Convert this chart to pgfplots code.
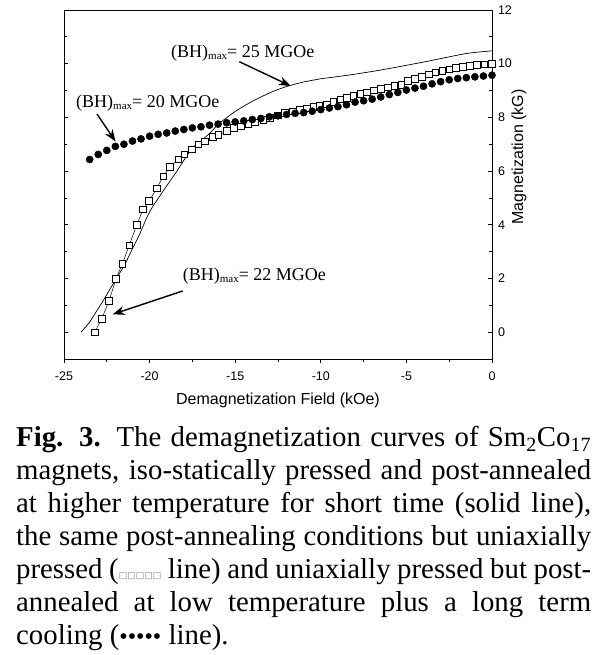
\documentclass[border=0pt]{standalone}
\usepackage{pgfplots}
\pgfplotsset{compat=1.18}
\usepackage{fontspec}
\setmainfont{Liberation Serif}
\newfontfamily\arial{Liberation Sans}
\newfontfamily\dejavu{DejaVu Sans}
\usetikzlibrary{arrows.meta}
\newcommand\capline[1]{\makebox[575pt][s]{#1}}
\begin{document}
\begin{tikzpicture}[x=1pt,y=1pt]
\useasboundingbox (0,0) rectangle (608,-655);
\begin{axis}[
  at={(64pt,-359pt)}, anchor=south west, scale only axis,
  width=428pt, height=349pt,
  xmin=-25, xmax=0, ymin=-1, ymax=12,
  clip=false,
  axis line style={line width=0.9pt},
  xtick={-25,-20,-15,-10,-5,0},
  xticklabels={-25,-20,-15,-10,-5,0},
  minor x tick num=1,
  ytick={0,2,4,6,8,10,12},
  yticklabels={0,2,4,6,8,10,12},
  minor y tick num=1,
  xtick pos=bottom, ytick pos=both, yticklabel pos=right,
  tick align=inside,
  major tick length=4pt, minor tick length=3pt,
  every tick/.append style={black, line width=0.8pt},
  major x tick style={yshift=-4pt},
  minor x tick style={yshift=-3pt},
  tick label style={font=\arial\fontsize{12.5}{14}\selectfont},
  xticklabel style={anchor=base, yshift=-21pt},
  yticklabel style={anchor=west, xshift=2.5pt},
]
% solid line
\addplot[black, line width=0.7pt] coordinates {
(-24.0,0.00) (-23.5,0.37) (-23.1,0.78) (-22.7,1.18) (-22.3,1.62) (-22.0,1.93)
(-21.7,2.25) (-21.4,2.58) (-21.1,2.98) (-20.85,3.30) (-20.6,3.62) (-20.4,3.92)
(-20.2,4.22) (-20.0,4.48) (-19.75,4.75) (-19.5,4.98) (-19.25,5.22) (-19.0,5.45)
(-18.75,5.68) (-18.5,5.91) (-18.25,6.15) (-18.0,6.40) (-17.75,6.64) (-17.5,6.86)
(-17.25,7.00) (-17.0,7.12) (-16.75,7.26) (-16.5,7.40) (-16.25,7.57) (-16.0,7.74)
(-15.75,7.87) (-15.5,7.99) (-15.25,8.11) (-15.0,8.22) (-14.5,8.42) (-14.0,8.60)
(-13.5,8.76) (-13.0,8.91) (-12.5,9.04) (-12.0,9.15) (-11.5,9.24) (-11.0,9.32)
(-10.5,9.38) (-10.0,9.44) (-9.0,9.52) (-8.0,9.61) (-7.0,9.71) (-6.0,9.82)
(-5.0,9.94) (-4.0,10.06) (-3.0,10.19) (-2.0,10.32) (-1.5,10.38) (-1.0,10.42)
(-0.5,10.45) (0.0,10.48)
};
% open squares
\addplot[black, line width=0.5pt, mark=square*, mark size=3.3pt,
  mark options={solid, fill=white, draw=black, line width=0.7pt}] coordinates {
(-23.2,0.0) (-22.8,0.5) (-22.37,1.16) (-21.96,1.99) (-21.59,2.55) (-21.19,3.23)
(-20.75,4.0) (-20.38,4.57) (-20.03,4.88) (-19.59,5.35) (-19.20,5.81) (-18.81,6.15)
(-18.32,6.44) (-17.97,6.62) (-17.52,6.81) (-17.16,6.99) (-16.76,7.11) (-16.31,7.27)
(-15.98,7.34) (-15.50,7.49) (-15.07,7.61) (-14.68,7.67) (-14.23,7.75) (-13.84,7.81)
(-13.36,7.90) (-12.97,7.98) (-12.52,8.08) (-12.09,8.17) (-11.64,8.23) (-11.21,8.27)
(-10.82,8.33) (-10.44,8.39) (-10.09,8.42) (-9.66,8.49) (-9.27,8.58) (-8.84,8.67)
(-8.49,8.73) (-8.1,8.80) (-7.7,8.87) (-7.3,8.93) (-6.9,9.00) (-6.5,9.07)
(-6.1,9.12) (-5.7,9.17) (-5.3,9.22) (-4.9,9.37) (-4.5,9.43) (-4.1,9.52)
(-3.7,9.60) (-3.3,9.68) (-2.9,9.74) (-2.5,9.79) (-2.1,9.84) (-1.7,9.89)
(-1.3,9.93) (-0.9,9.96) (-0.45,9.98) (0.0,10.0)
};
% filled circles
\addplot[only marks, mark=*, mark size=3.6pt, black] coordinates {
(-23.5,6.43) (-23.0,6.62) (-22.5,6.77) (-22.0,6.92) (-21.5,7.00) (-21.0,7.12)
(-20.5,7.20) (-20.0,7.30) (-19.5,7.37) (-19.0,7.42) (-18.5,7.49) (-18.0,7.55)
(-17.5,7.61) (-17.0,7.65) (-16.5,7.71) (-16.0,7.75) (-15.5,7.80) (-15.0,7.83)
(-14.5,7.87) (-14.0,7.92) (-13.5,7.96) (-13.0,8.02) (-12.5,8.06) (-12.0,8.11)
(-11.5,8.15) (-11.0,8.18) (-10.5,8.23) (-10.0,8.29) (-9.5,8.35) (-9.0,8.40)
(-8.5,8.47) (-8.0,8.57) (-7.5,8.62) (-7.0,8.68) (-6.5,8.76) (-6.0,8.85)
(-5.5,8.93) (-5.0,9.02) (-4.5,9.09) (-4.0,9.16) (-3.5,9.25) (-3.0,9.33)
(-2.5,9.40) (-2.0,9.45) (-1.5,9.48) (-1.0,9.51) (-0.5,9.54) (0.0,9.57)
};
\end{axis}
% axis titles
\node[font=\arial\fontsize{16}{18}\selectfont, anchor=base, inner sep=0] at (278,-404) {Demagnetization Field (kOe)};
\node[font=\arial\fontsize{16}{18}\selectfont, rotate=90, anchor=base, inner sep=0] at (523,-157) {Magnetization (kG)};
% annotations
\node[anchor=base west, inner sep=0, font=\fontsize{18}{20}\selectfont] at (171,-57.3)
  {(BH)\raisebox{-2pt}{\fontsize{11}{11}\selectfont max}= 25 MGOe};
\node[anchor=base west, inner sep=0, font=\fontsize{18}{20}\selectfont] at (76,-108)
  {(BH)\raisebox{-2pt}{\fontsize{11}{11}\selectfont max}= 20 MGOe};
\node[anchor=base west, inner sep=0, font=\fontsize{18}{20}\selectfont] at (182.7,-280.7)
  {(BH)\raisebox{-2pt}{\fontsize{11}{11}\selectfont max}= 22 MGOe};
\draw[line width=1.4pt, -{Stealth[length=12pt,width=9pt]}] (239.3,-61.7) -- (290.7,-86);
\draw[line width=1.4pt, -{Stealth[length=12pt,width=9pt]}] (97,-114) -- (115.5,-141.5);
\draw[line width=1.4pt, -{Stealth[length=12pt,width=9pt]}] (182.7,-291) -- (112.7,-314.3);
% caption
\begin{scope}[every node/.style={anchor=base west, inner sep=0, font=\fontsize{28.8}{33}\selectfont}]
\node at (16,-446.7) {\capline{\textbf{Fig. 3.} The demagnetization curves of Sm\textsubscript{2}Co\textsubscript{17}}};
\node at (16,-479.7) {\capline{magnets, iso-statically pressed and post-annealed}};
\node at (16,-512.7) {\capline{at higher temperature for short time (solid line),}};
\node at (16,-545.7) {\capline{the same post-annealing conditions but uniaxially}};
\node at (16,-578.7) {\capline{pressed ({\dejavu\fontsize{9}{9}\selectfont\color{gray}□□□□□} line) and uniaxially pressed but post-}};
\node at (16,-611.7) {\capline{annealed at low temperature plus a long term}};
\node at (16,-644.7) {cooling ({\fontsize{24}{24}\selectfont •••••} line).};
\end{scope}
\end{tikzpicture}
\end{document}
